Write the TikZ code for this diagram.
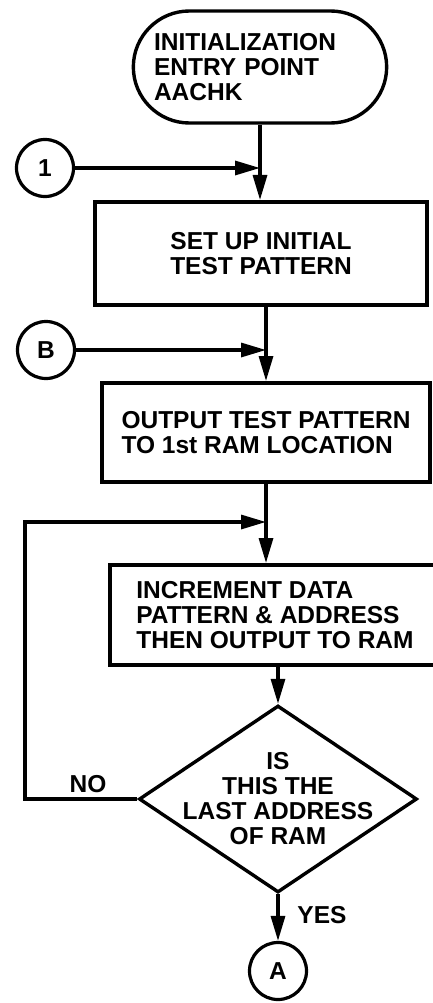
\documentclass[tikz,border=0pt]{standalone}
\usepackage{fontspec}
\setmainfont{Liberation Sans}
\usetikzlibrary{arrows.meta,shapes.geometric,shapes.misc}
\newcommand{\dfont}{\fontsize{24.5}{25}\selectfont\bfseries}
\begin{document}
\begin{tikzpicture}[x=1pt,y=-1pt,
  box/.style={draw, rectangle, line width=4pt, font=\dfont, align=left, inner sep=0pt},
  conn/.style={draw, circle, line width=3.2pt, minimum size=57pt, inner sep=0pt, font=\dfont},
  arr/.style={-{Triangle[length=25pt,width=14pt]}, line width=3.2pt},
  lbl/.style={font=\dfont}]
\useasboundingbox (0,0) rectangle (432,1003);
% nodes
\node[draw, rounded rectangle, line width=3.4pt, minimum width=260pt, minimum height=112pt,
      text width=212pt, align=left, font=\dfont] (term) at (260,67) {INITIALIZATION\\ENTRY POINT\\AACHK};
\node[box, minimum width=332pt, minimum height=103pt, align=center] (b1) at (261,253.5) {SET UP INITIAL\\TEST PATTERN};
\node[box, minimum width=328pt, minimum height=99pt] (b2) at (266,432.5) {OUTPUT TEST PATTERN\\TO 1st RAM LOCATION};
\node[box, minimum width=330pt, minimum height=100pt] (b3) at (275,615) {INCREMENT DATA\\PATTERN \& ADDRESS\\THEN OUTPUT TO RAM};
\node[draw, diamond, line width=3.4pt, minimum width=278pt, minimum height=187pt, inner sep=0pt] (dia) at (278,799) {};
\node[font=\dfont, align=center] (dtext) at (dia.center) {IS\\THIS THE\\LAST ADDRESS\\OF RAM};
\node[conn] (c1) at (45,168) {1};
\node[conn] (cB) at (46,350) {B};
\node[conn] (cA) at (dia.south |- 0,971) {A};
\node[lbl] (no) at (88,784) {NO};
\node[lbl] (yes) at (322,915) {YES};
% connectors
\draw[arr] (term.south) -- (term.south |- b1.north);
\coordinate (j1) at (term.south |- c1.east);
\draw[arr] (c1.east) -- (j1);
\draw[arr] (b1.south -| b2.north) -- (b2.north);
\coordinate (j2) at (b2.north |- cB.east);
\draw[arr] (cB.east) -- (j2);
\draw[arr] (b2.south) -- (b2.south |- b3.north);
\coordinate (lc) at (25,522);
\draw[arr] (dia.west) -| (lc) -- (b2.south |- lc);
\draw[arr] (b3.south -| dia.north) -- (dia.north);
\draw[arr] (dia.south) -- (cA.north);
\end{tikzpicture}
\end{document}
